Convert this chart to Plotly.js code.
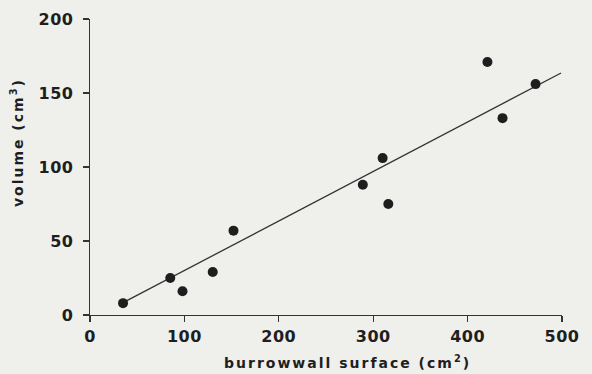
<!DOCTYPE html>
<html>
<head>
<meta charset="utf-8">
<script src="https://cdn.plot.ly/plotly-3.0.1.min.js"></script>
<style>
  html, body { margin: 0; padding: 0; background: #efefec; }
  #chart { width: 592px; height: 374px; }
  /* wide, typewriter-like spacing of the printed lettering */
  #chart .annotation-text { letter-spacing: 2px; }
  #chart .xtick text, #chart .ytick text { letter-spacing: 0.5px; }
</style>
</head>
<body>
<div id="chart"></div>
<script>
// Burrow measurements: wall surface (cm²) against burrow volume (cm³)
const surface = [35, 85, 98, 130, 152, 289, 310, 316, 421, 437, 472];
const volume  = [8, 25, 16, 29, 57, 88, 106, 75, 171, 133, 156];

// Regression line end points
const fitSurface = [34, 499];
const fitVolume  = [8, 163.5];

const xTicks = [0, 100, 200, 300, 400, 500];
const yTicks = [0, 50, 100, 150, 200];

const xTitle = 'burrowwall surface (cm<sup>2</sup>)';
const yTitle = 'volume (cm<sup>3</sup>)';

const ink = '#1e1e1e';
const tickFont = { family: 'DejaVu Sans, sans-serif', size: 16, color: ink, weight: 'bold' };
const titleFont = { family: 'DejaVu Sans, sans-serif', size: 14, color: ink, weight: 'bold' };

const traces = [
  {
    x: fitSurface, y: fitVolume, mode: 'lines', type: 'scatter',
    line: { color: '#333', width: 1.3 }, hoverinfo: 'skip'
  },
  {
    x: surface, y: volume, mode: 'markers', type: 'scatter',
    marker: { color: ink, size: 10 }
  }
];

const layout = {
  width: 592, height: 374,
  paper_bgcolor: '#efefec', plot_bgcolor: '#efefec',
  showlegend: false,
  margin: { l: 90, r: 30, t: 19, b: 59 },
  font: tickFont,
  xaxis: {
    range: [0, 500], tickvals: xTicks, ticktext: xTicks.map(String),
    showgrid: false, zeroline: false, showline: true, linecolor: '#333', linewidth: 1.3,
    ticks: 'outside', ticklen: 6, tickcolor: '#333', tickwidth: 1.3,
    tickfont: tickFont
  },
  yaxis: {
    range: [0, 200], tickvals: yTicks, ticktext: yTicks.map(String),
    showgrid: false, zeroline: false, showline: true, linecolor: '#333', linewidth: 1.3,
    ticks: 'outside', ticklen: 6, tickcolor: '#333', tickwidth: 1.3,
    tickfont: tickFont, ticklabelstandoff: 6
  },
  // Axis titles placed as annotations so they sit off-centre like the printed figure
  annotations: [
    {
      text: xTitle, xref: 'paper', yref: 'paper', x: 0.5445, y: -0.159,
      xanchor: 'center', yanchor: 'middle', showarrow: false, font: titleFont
    },
    {
      text: yTitle, xref: 'paper', yref: 'paper', x: -0.1547, y: 0.584,
      xanchor: 'center', yanchor: 'middle', textangle: -90, showarrow: false, font: titleFont
    }
  ]
};

Plotly.newPlot('chart', traces, layout, { staticPlot: true, displayModeBar: false });
</script>
</body>
</html>
